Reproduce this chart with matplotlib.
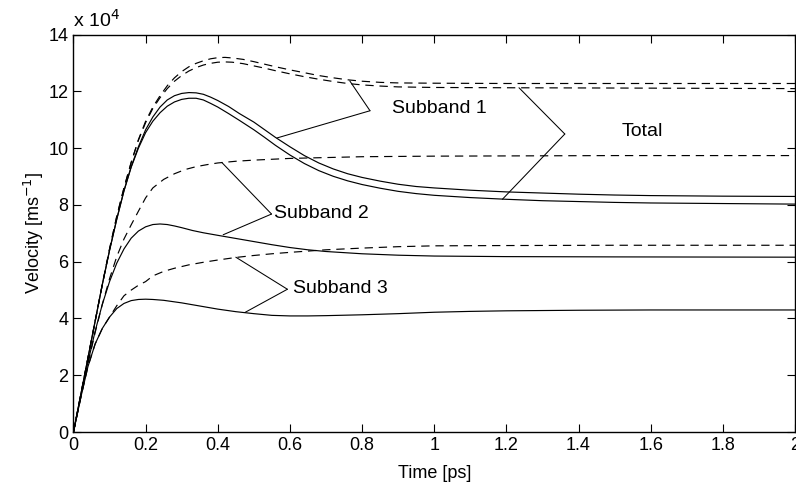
import matplotlib
matplotlib.use('Agg')
import matplotlib.pyplot as plt

plt.rcParams['font.family'] = ['Liberation Sans', 'DejaVu Sans']
plt.rcParams['lines.scale_dashes'] = False

# velocities in units of 1e4 m/s, time in ps
x_top_s = [0, 0.02, 0.04, 0.06, 0.08, 0.1, 0.12, 0.14, 0.16, 0.18, 0.2, 0.22, 0.24, 0.26, 0.28,
           0.3, 0.32, 0.34, 0.36, 0.38, 0.4, 0.43, 0.46, 0.5, 0.53, 0.56, 0.6, 0.64, 0.68, 0.72,
           0.76, 0.8, 0.85, 0.9, 0.95, 1.0, 1.1, 1.2, 1.3, 1.4, 1.5, 1.6, 1.8, 2.0]
v_sb1_s = [0, 1.3, 2.6, 3.9, 5.2, 6.4, 7.5, 8.5, 9.35, 10.05, 10.65, 11.1, 11.45, 11.7, 11.85,
           11.93, 11.96, 11.95, 11.9, 11.8, 11.68, 11.47, 11.22, 10.92, 10.65, 10.38, 10.05, 9.74,
           9.48, 9.27, 9.1, 8.97, 8.84, 8.73, 8.65, 8.6, 8.52, 8.46, 8.42, 8.38, 8.35, 8.33, 8.31, 8.30]
v_tot_s = [0, 1.3, 2.6, 3.9, 5.2, 6.4, 7.5, 8.5, 9.33, 10.0, 10.55, 10.95, 11.25, 11.48, 11.63,
           11.72, 11.76, 11.76, 11.7, 11.58, 11.45, 11.22, 10.98, 10.65, 10.38, 10.1, 9.76, 9.46,
           9.21, 9.01, 8.85, 8.72, 8.59, 8.48, 8.4, 8.34, 8.26, 8.2, 8.15, 8.12, 8.09, 8.07, 8.05, 8.03]

x_top_d = [0, 0.02, 0.04, 0.06, 0.08, 0.1, 0.12, 0.14, 0.16, 0.18, 0.2, 0.22, 0.24, 0.26, 0.28,
           0.3, 0.32, 0.34, 0.36, 0.38, 0.4, 0.42, 0.44, 0.47, 0.5, 0.53, 0.56, 0.6, 0.64, 0.68,
           0.72, 0.76, 0.8, 0.85, 0.9, 1.0, 1.2, 1.5, 2.0]
v_sb1_d = [0, 1.3, 2.6, 3.9, 5.2, 6.45, 7.6, 8.6, 9.5, 10.3, 10.95, 11.45, 11.85, 12.2, 12.48,
           12.7, 12.87, 12.99, 13.08, 13.15, 13.19, 13.2, 13.18, 13.13, 13.05, 12.96, 12.87, 12.76,
           12.66, 12.56, 12.48, 12.41, 12.36, 12.32, 12.3, 12.29, 12.28, 12.28, 12.28]
v_tot_d = [0, 1.3, 2.6, 3.9, 5.2, 6.45, 7.6, 8.6, 9.5, 10.28, 10.9, 11.4, 11.78, 12.1, 12.36,
           12.56, 12.72, 12.84, 12.93, 12.99, 13.03, 13.04, 13.03, 12.98, 12.9, 12.82, 12.73, 12.62,
           12.52, 12.43, 12.35, 12.28, 12.23, 12.19, 12.16, 12.14, 12.13, 12.12, 12.1]

x_sb2_s = [0, 0.02, 0.04, 0.06, 0.08, 0.1, 0.12, 0.14, 0.16, 0.18, 0.2, 0.22, 0.24, 0.26, 0.28,
           0.3, 0.33, 0.36, 0.4, 0.45, 0.5, 0.55, 0.6, 0.65, 0.7, 0.8, 0.9, 1.0, 1.2, 1.5, 2.0]
v_sb2_s = [0, 1.25, 2.45, 3.55, 4.5, 5.3, 5.95, 6.45, 6.83, 7.08, 7.23, 7.31, 7.33, 7.31, 7.26,
           7.2, 7.1, 7.02, 6.93, 6.82, 6.71, 6.6, 6.5, 6.42, 6.36, 6.28, 6.23, 6.2, 6.18, 6.17, 6.16]

x_sb2_d = [0, 0.02, 0.04, 0.06, 0.08, 0.1, 0.12, 0.14, 0.16, 0.18, 0.2, 0.22, 0.25, 0.28, 0.31,
           0.34, 0.37, 0.4, 0.45, 0.5, 0.6, 0.7, 0.8, 1.0, 1.5, 2.0]
v_sb2_d = [0, 1.2, 2.4, 3.5, 4.5, 5.4, 6.18, 6.8, 7.3, 7.78, 8.25, 8.6, 8.9, 9.1, 9.25,
           9.35, 9.42, 9.48, 9.54, 9.58, 9.64, 9.67, 9.7, 9.72, 9.74, 9.74]

x_sb3_s = [0, 0.02, 0.04, 0.06, 0.08, 0.1, 0.12, 0.14, 0.16, 0.18, 0.2, 0.22, 0.25, 0.3, 0.35,
           0.4, 0.45, 0.5, 0.55, 0.6, 0.65, 0.7, 0.8, 0.9, 1.0, 1.1, 1.2, 1.4, 1.6, 2.0]
v_sb3_s = [0, 1.2, 2.3, 3.1, 3.65, 4.05, 4.35, 4.53, 4.63, 4.67, 4.68, 4.67, 4.64, 4.55, 4.44,
           4.33, 4.24, 4.17, 4.11, 4.09, 4.09, 4.1, 4.13, 4.17, 4.22, 4.25, 4.27, 4.29, 4.3, 4.3]

x_sb3_d = [0, 0.02, 0.04, 0.06, 0.08, 0.1, 0.12, 0.14, 0.16, 0.18, 0.2, 0.22, 0.25, 0.28, 0.32,
           0.36, 0.4, 0.45, 0.5, 0.55, 0.6, 0.7, 0.8, 0.9, 1.0, 1.2, 1.5, 2.0]
v_sb3_d = [0, 1.2, 2.3, 3.1, 3.65, 4.05, 4.45, 4.8, 5.0, 5.17, 5.3, 5.5, 5.66, 5.77, 5.89,
           5.98, 6.06, 6.15, 6.22, 6.28, 6.33, 6.42, 6.48, 6.53, 6.56, 6.57, 6.58, 6.58]

# callouts: label, text position, vertex, two curve points
callouts = [
    ('Subband 1', (0.883, 11.39), (0.822, 11.32), [(0.766, 12.37), (0.564, 10.36)]),
    ('Total', (1.52, 10.59), (1.362, 10.5), [(1.235, 12.13), (1.189, 8.2)]),
    ('Subband 2', (0.556, 7.71), (0.549, 7.68), [(0.411, 9.5), (0.415, 6.95)]),
    ('Subband 3', (0.608, 5.07), (0.593, 5.03), [(0.45, 6.16), (0.475, 4.21)]),
]

fig = plt.figure(figsize=(7.96, 4.94), dpi=100)
ax = fig.add_axes([0.0923, 0.1255, 0.9064, 0.8043])

lw = 0.85
dash = (0, (6, 4.2))
ax.plot(x_top_d, v_sb1_d, color='k', lw=lw, ls=dash)
ax.plot(x_top_d, v_tot_d, color='k', lw=lw, ls=dash)
ax.plot(x_top_s, v_sb1_s, color='k', lw=lw)
ax.plot(x_top_s, v_tot_s, color='k', lw=lw)
ax.plot(x_sb2_d, v_sb2_d, color='k', lw=lw, ls=dash)
ax.plot(x_sb2_s, v_sb2_s, color='k', lw=lw)
ax.plot(x_sb3_d, v_sb3_d, color='k', lw=lw, ls=dash)
ax.plot(x_sb3_s, v_sb3_s, color='k', lw=lw)

for label, tpos, vert, ends in callouts:
    for p in ends:
        ax.annotate('', xy=p, xytext=vert,
                    arrowprops=dict(arrowstyle='-', lw=0.75, color='k',
                                    shrinkA=0, shrinkB=0))
    ax.text(tpos[0], tpos[1], label, fontsize=14, ha='left', va='center')

ax.set_xlim(0, 2)
ax.set_ylim(0, 14)
ax.set_xticks([0, 0.2, 0.4, 0.6, 0.8, 1, 1.2, 1.4, 1.6, 1.8, 2])
ax.set_xticklabels(['0', '0.2', '0.4', '0.6', '0.8', '1', '1.2', '1.4', '1.6', '1.8', '2'])
ax.set_yticks(range(0, 15, 2))
ax.tick_params(direction='in', top=True, right=True, length=6, width=0.8, labelsize=13)
for s in ax.spines.values():
    s.set_linewidth(1.0)
ax.set_xlabel('Time [ps]', fontsize=13, labelpad=8)
ax.set_ylabel('Velocity [ms$^{-1}$]', fontsize=13, labelpad=2)
ax.text(0.0, 1.02, r'x 10$^4$', transform=ax.transAxes, fontsize=14, ha='left', va='baseline')

fig.savefig('out.png', dpi=100)
